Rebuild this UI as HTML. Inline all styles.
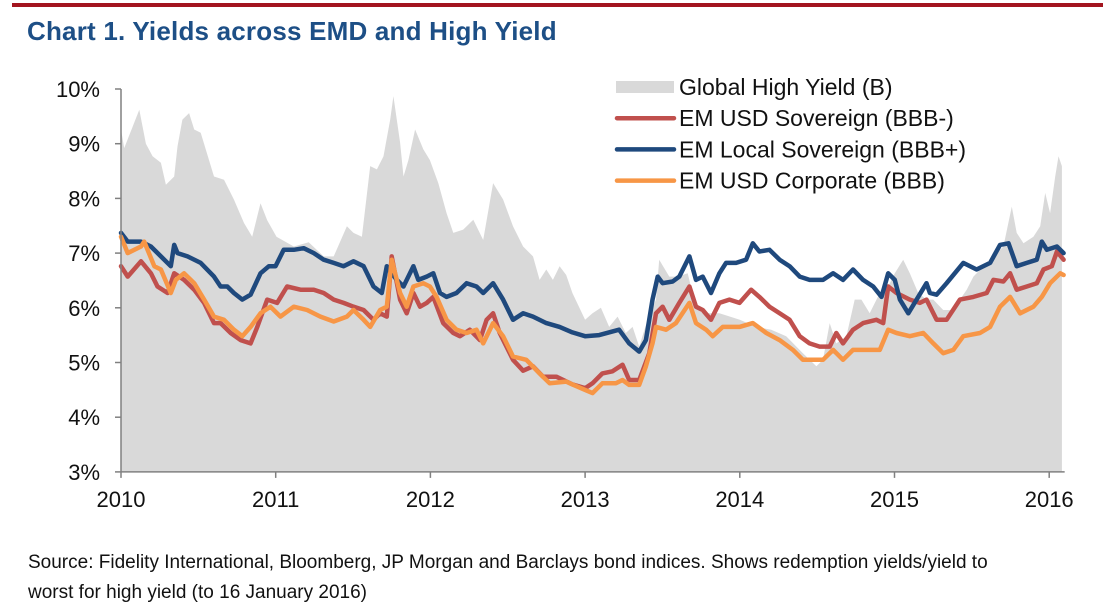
<!DOCTYPE html>
<html><head><meta charset="utf-8">
<style>
html,body{margin:0;padding:0;background:#fff;}
body{width:1103px;height:616px;overflow:hidden;position:relative;font-family:"Liberation Sans",Arial,sans-serif;}
#topbar{position:absolute;left:12px;top:3px;width:1091px;height:4px;background:#a3151f;}
#title{position:absolute;left:27px;top:16px;font-size:26px;font-weight:bold;color:#1d4f86;letter-spacing:0.2px;}
#src{position:absolute;left:28px;top:548px;font-size:19px;color:#111;line-height:30px;white-space:nowrap;}
svg{position:absolute;left:0;top:0;}
</style></head>
<body>
<div id="topbar"></div>
<div id="title">Chart 1. Yields across EMD and High Yield</div>
<svg id="chart" width="1103" height="616"></svg>
<div id="src">Source: Fidelity International, Bloomberg, JP Morgan and Barclays bond indices. Shows redemption yields/yield to<br>worst for high yield (to 16 January 2016)</div>
<script>
const yTicks=[3,4,5,6,7,8,9,10];
const xTicks=[2010,2011,2012,2013,2014,2015,2016];
const hyDates=[2010,2010.021,2010.118,2010.161,2010.204,2010.258,2010.29,2010.344,2010.365,2010.397,2010.44,2010.473,2010.515,2010.601,2010.666,2010.73,2010.795,2010.848,2010.902,2010.945,2011.005,2011.117,2011.213,2011.31,2011.375,2011.46,2011.503,2011.557,2011.611,2011.654,2011.697,2011.74,2011.761,2011.804,2011.826,2011.858,2011.901,2011.954,2011.997,2012.051,2012.105,2012.148,2012.212,2012.277,2012.341,2012.405,2012.47,2012.534,2012.599,2012.663,2012.706,2012.749,2012.792,2012.835,2012.878,2012.918,2013.0,2013.048,2013.102,2013.156,2013.21,2013.263,2013.307,2013.35,2013.404,2013.458,2013.479,2013.544,2013.598,2013.663,2013.717,2013.76,2013.868,2014.0,2014.106,2014.203,2014.3,2014.408,2014.495,2014.538,2014.581,2014.624,2014.689,2014.743,2014.786,2014.84,2014.905,2014.959,2015.002,2015.056,2015.099,2015.153,2015.207,2015.251,2015.315,2015.369,2015.423,2015.467,2015.51,2015.575,2015.639,2015.704,2015.758,2015.79,2015.834,2015.898,2015.942,2015.974,2016.006,2016.039,2016.06,2016.082];
const hyValues=[9.26,8.92,9.62,9.0,8.77,8.65,8.25,8.4,8.95,9.44,9.56,9.26,9.2,8.4,8.34,7.98,7.55,7.3,7.91,7.6,7.3,7.12,7.2,6.94,6.94,7.49,7.37,7.3,8.59,8.53,8.77,9.44,9.87,9.02,8.4,8.7,9.26,8.9,8.7,8.28,7.73,7.37,7.43,7.61,7.24,8.28,7.98,7.49,7.12,6.94,6.51,6.7,6.51,6.76,6.6,6.27,5.78,5.9,6.0,5.65,5.84,5.54,5.65,5.29,5.78,6.15,6.88,6.57,6.57,6.63,6.0,5.9,5.9,5.78,5.65,5.6,5.48,5.17,4.93,5.05,5.72,5.35,5.48,6.15,6.15,5.9,6.27,6.39,6.63,6.88,6.63,6.27,6.15,6.15,5.96,5.96,6.15,6.33,6.57,6.76,6.94,7.12,7.85,7.37,7.18,7.3,7.49,8.1,7.73,8.4,8.77,8.59];
const localDates=[2010,2010.043,2010.129,2010.193,2010.258,2010.322,2010.344,2010.365,2010.43,2010.515,2010.601,2010.644,2010.687,2010.73,2010.784,2010.838,2010.902,2010.956,2010.999,2011.052,2011.117,2011.181,2011.246,2011.31,2011.375,2011.439,2011.503,2011.568,2011.632,2011.686,2011.718,2011.75,2011.783,2011.826,2011.89,2011.922,2011.976,2012.019,2012.062,2012.105,2012.169,2012.234,2012.298,2012.341,2012.405,2012.47,2012.534,2012.599,2012.663,2012.749,2012.835,2012.918,2013.0,2013.091,2013.22,2013.285,2013.35,2013.393,2013.436,2013.469,2013.501,2013.566,2013.609,2013.674,2013.717,2013.76,2013.814,2013.868,2013.911,2013.976,2014.041,2014.084,2014.127,2014.192,2014.257,2014.322,2014.387,2014.451,2014.538,2014.603,2014.667,2014.732,2014.797,2014.862,2014.916,2014.959,2015.002,2015.035,2015.089,2015.143,2015.207,2015.229,2015.272,2015.337,2015.445,2015.531,2015.618,2015.682,2015.737,2015.79,2015.855,2015.92,2015.952,2015.985,2016.05,2016.093];
const localValues=[7.37,7.21,7.21,7.12,6.94,6.76,7.15,7.0,6.94,6.82,6.57,6.39,6.39,6.27,6.15,6.24,6.63,6.76,6.76,7.06,7.06,7.09,7.0,6.88,6.82,6.76,6.85,6.76,6.39,6.27,6.76,6.63,6.51,6.39,6.76,6.51,6.57,6.63,6.27,6.2,6.27,6.45,6.39,6.27,6.45,6.15,5.78,5.9,5.84,5.72,5.65,5.55,5.48,5.5,5.6,5.35,5.2,5.41,6.15,6.57,6.45,6.48,6.57,6.94,6.51,6.57,6.27,6.63,6.82,6.82,6.88,7.18,7.03,7.06,6.88,6.76,6.57,6.51,6.51,6.63,6.51,6.7,6.51,6.39,6.2,6.63,6.51,6.15,5.9,6.15,6.45,6.27,6.24,6.45,6.82,6.7,6.82,7.15,7.18,6.76,6.82,6.88,7.21,7.06,7.12,7.0];
const sovDates=[2010,2010.043,2010.129,2010.193,2010.236,2010.301,2010.344,2010.408,2010.473,2010.537,2010.601,2010.644,2010.709,2010.773,2010.838,2010.881,2010.945,2011.009,2011.074,2011.16,2011.246,2011.31,2011.375,2011.439,2011.503,2011.568,2011.632,2011.675,2011.718,2011.75,2011.804,2011.847,2011.89,2011.933,2011.976,2012.019,2012.083,2012.148,2012.191,2012.255,2012.32,2012.363,2012.405,2012.448,2012.534,2012.599,2012.663,2012.728,2012.814,2012.918,2013.0,2013.048,2013.112,2013.177,2013.242,2013.285,2013.35,2013.415,2013.458,2013.501,2013.544,2013.609,2013.674,2013.717,2013.76,2013.814,2013.868,2013.933,2013.998,2014.073,2014.127,2014.192,2014.257,2014.322,2014.387,2014.451,2014.516,2014.581,2014.624,2014.667,2014.732,2014.797,2014.883,2014.927,2014.959,2015.013,2015.099,2015.164,2015.207,2015.272,2015.337,2015.423,2015.51,2015.596,2015.639,2015.704,2015.747,2015.79,2015.855,2015.92,2015.963,2016.017,2016.05,2016.093];
const sovValues=[6.76,6.57,6.85,6.63,6.39,6.27,6.63,6.51,6.33,6.09,5.72,5.72,5.54,5.41,5.35,5.65,6.15,6.09,6.39,6.33,6.33,6.27,6.15,6.09,6.02,5.96,5.78,5.9,5.84,6.94,6.15,5.9,6.27,6.02,6.09,6.2,5.72,5.54,5.48,5.6,5.41,5.78,5.9,5.54,5.05,4.85,4.93,4.74,4.74,4.6,4.53,4.62,4.8,4.84,4.96,4.68,4.68,5.17,5.9,6.02,5.78,6.09,6.39,6.02,5.96,5.78,6.09,6.15,6.09,6.33,6.2,6.02,5.9,5.78,5.48,5.35,5.29,5.29,5.54,5.35,5.6,5.72,5.78,5.72,6.39,6.27,6.15,6.09,6.15,5.78,5.78,6.15,6.2,6.27,6.51,6.48,6.63,6.33,6.39,6.45,6.7,6.76,7.03,6.88];
const corpDates=[2010,2010.043,2010.129,2010.15,2010.215,2010.258,2010.322,2010.354,2010.408,2010.473,2010.537,2010.601,2010.666,2010.73,2010.784,2010.838,2010.902,2010.966,2011.031,2011.117,2011.203,2011.289,2011.375,2011.46,2011.503,2011.568,2011.611,2011.675,2011.718,2011.75,2011.804,2011.847,2011.89,2011.954,2011.997,2012.04,2012.105,2012.169,2012.234,2012.298,2012.341,2012.405,2012.47,2012.534,2012.62,2012.706,2012.771,2012.878,2012.918,2013.0,2013.048,2013.112,2013.199,2013.242,2013.285,2013.35,2013.393,2013.436,2013.458,2013.523,2013.587,2013.674,2013.717,2013.782,2013.825,2013.89,2013.998,2014.084,2014.171,2014.257,2014.343,2014.408,2014.473,2014.538,2014.603,2014.667,2014.732,2014.819,2014.905,2014.959,2015.013,2015.099,2015.186,2015.251,2015.315,2015.38,2015.445,2015.553,2015.618,2015.682,2015.747,2015.812,2015.898,2015.952,2016.006,2016.071,2016.093];
const corpValues=[7.3,7.0,7.12,7.21,6.76,6.7,6.27,6.51,6.63,6.45,6.15,5.84,5.78,5.6,5.48,5.65,5.9,6.02,5.84,6.02,5.96,5.84,5.75,5.84,5.96,5.78,5.65,5.96,6.02,6.88,6.27,6.02,6.39,6.45,6.39,6.2,5.78,5.6,5.54,5.6,5.35,5.72,5.48,5.11,5.05,4.8,4.62,4.65,4.6,4.5,4.44,4.62,4.62,4.68,4.59,4.59,4.93,5.35,5.65,5.6,5.72,6.09,5.72,5.6,5.48,5.65,5.65,5.72,5.54,5.41,5.23,5.05,5.05,5.05,5.23,5.05,5.23,5.23,5.23,5.6,5.54,5.48,5.54,5.35,5.17,5.23,5.48,5.54,5.65,6.02,6.2,5.9,6.02,6.2,6.45,6.63,6.6];

const NS='http://www.w3.org/2000/svg';
const svg=document.getElementById('chart');
const X0=121,PX=154.7,Y10=89,PY=54.7;
function xs(d){return X0+(d-2010)*PX;}
function ys(v){return Y10+(10-v)*PY;}
function mk(tag,attrs){const e=document.createElementNS(NS,tag);for(const k in attrs)e.setAttribute(k,attrs[k]);svg.appendChild(e);return e;}

let d='M'+xs(hyDates[0])+','+ys(3);
hyDates.forEach((t,i)=>{d+=' L'+xs(t).toFixed(1)+','+ys(hyValues[i]).toFixed(1);});
d+=' L'+xs(hyDates[hyDates.length-1]).toFixed(1)+','+ys(3)+' Z';
const area=mk('path',{d:d,fill:'#d9d9d9'});



function line(dates,vals,color,name){
  let p='';dates.forEach((t,i)=>{p+=(i?' L':'M')+xs(t).toFixed(1)+','+ys(vals[i]).toFixed(1);});
  const e=mk('path',{d:p,fill:'none',stroke:color,'stroke-width':4.5,'stroke-linejoin':'round','stroke-linecap':'round'});
  
  
}
line(sovDates,sovValues,'#c0504d','em-usd-sovereign-line');
line(localDates,localValues,'#1f497d','em-local-sovereign-line');
line(corpDates,corpValues,'#f79646','em-usd-corporate-line');

const ya=mk('line',{x1:X0,y1:ys(10),x2:X0,y2:ys(3),stroke:'#808080','stroke-width':1.5});


const xa=mk('line',{x1:X0,y1:ys(3),x2:xs(2016.1),y2:ys(3),stroke:'#808080','stroke-width':1.5});


yTicks.forEach(v=>{
  mk('line',{x1:X0-6,y1:ys(v),x2:X0,y2:ys(v),stroke:'#808080','stroke-width':1.5});
  const t=mk('text',{x:100,y:ys(v)+8,'text-anchor':'end','font-size':22,fill:'#111'});
  t.textContent=v+'%';
  
  
});
xTicks.forEach(v=>{
  mk('line',{x1:xs(v),y1:ys(3),x2:xs(v),y2:ys(3)+6,stroke:'#808080','stroke-width':1.5});
  const t=mk('text',{x:xs(v),y:507,'text-anchor':'middle','font-size':22,fill:'#111'});
  t.textContent=v;
  
  
});

const legNames=['Global High Yield (B)','EM USD Sovereign (BBB-)','EM Local Sovereign (BBB+)','EM USD Corporate (BBB)'];
const legColors=['#d9d9d9','#c0504d','#1f497d','#f79646'];
legNames.forEach((n,i)=>{
  const cy=87+i*31.2;
  if(i===0){const r=mk('rect',{x:616,y:cy-6,width:58,height:12,fill:legColors[0]});
    
    }
  else{const l=mk('line',{x1:617,y1:cy,x2:674,y2:cy,stroke:legColors[i],'stroke-width':4.5,'stroke-linecap':'round'});
    
    }
  const t=mk('text',{x:679,y:cy+8,'font-size':23,fill:'#111'});
  t.textContent=n;
  
  
});
</script>
</body></html>
